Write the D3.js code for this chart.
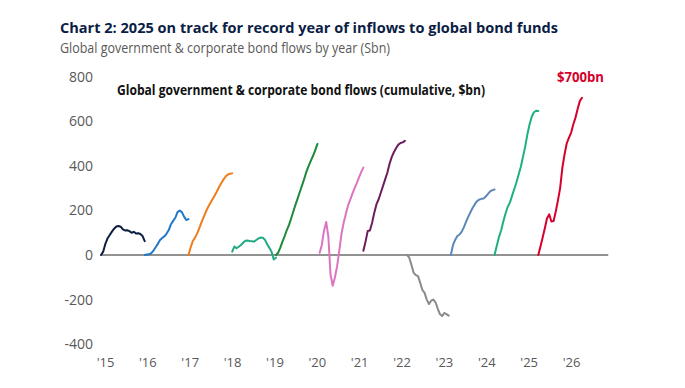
<!DOCTYPE html>
<html>
<head>
  <meta charset="UTF-8">
  <style>
    body { margin: 0; background: #fff; }
    svg text { font-family: "Open Sans", sans-serif; }
    .flow { fill: none; stroke-width: 2px; stroke-linejoin: round; stroke-linecap: round; }
    .axis text { fill: #595959; }
  </style>
</head>
<body>
<svg id="chart"></svg>
<script src="https://d3js.org/d3.v7.min.js"></script>
<script>

// year of each line, and the tick labels under the chart
let years = [2015, 2016, 2017, 2018, 2019, 2020, 2021, 2022, 2023, 2024, 2025];
let yearLabels = ["'15", "'16", "'17", "'18", "'19", "'20", "'21", "'22", "'23", "'24", "'25", "'26"];
let yTicks = [-400, -200, 0, 200, 400, 600, 800];

// cumulative flows, $bn, read every 1/20 of the year
let flows2015 = [0, 15, 50, 75, 90, 105, 118, 128, 130, 127, 115, 110, 111, 107, 100, 104, 96, 98, 94, 85, 62];
let flows2016 = [0, 2, 3, 8, 20, 35, 50, 67, 76, 84, 96, 112, 138, 153, 167, 192, 199, 192, 172, 157, 161];
let flows2017 = [0, 34, 63, 78, 97, 122, 147, 171, 195, 215, 233, 250, 267, 285, 305, 322, 338, 352, 361, 364, 366];
let flows2018 = [15, 38, 30, 37, 45, 55, 64, 65, 63, 62, 60, 67, 74, 78, 77, 68, 48, 32, 15, -20, -12];
let flows2019 = [0, 10, 33, 60, 85, 112, 135, 165, 196, 227, 255, 285, 313, 343, 375, 400, 423, 445, 470, 498];
let flows2020 = [10, 45, 110, 148, 80, -90, -138, -100, -50, 20, 95, 145, 185, 222, 248, 275, 300, 322, 348, 372, 392];
let flows2021 = [19, 60, 108, 110, 145, 190, 228, 250, 280, 310, 340, 370, 410, 440, 462, 480, 495, 502, 505, 512];
let flows2022 = [0, -12, -45, -80, -90, -95, -125, -157, -170, -200, -220, -205, -200, -212, -240, -265, -274, -260, -265, -272];
let flows2023 = [0, 45, 68, 85, 92, 105, 125, 150, 172, 192, 212, 228, 242, 248, 252, 253, 262, 274, 285, 291, 294];
let flows2024 = [0, 40, 80, 110, 150, 185, 215, 235, 265, 295, 325, 360, 395, 440, 485, 540, 585, 620, 640, 647, 646];
let flows2025 = [0, 38, 78, 120, 165, 182, 150, 152, 195, 245, 300, 390, 450, 500, 525, 548, 585, 615, 655, 690, 705];

// headline figure printed above the 2025 line
let headline2025 = 700;

let series = [flows2015, flows2016, flows2017, flows2018, flows2019, flows2020,
              flows2021, flows2022, flows2023, flows2024, flows2025];

let colours = ["#0c1f42", "#1f78c6", "#f07c1b", "#22a985", "#1c8a3a", "#dc74c1",
               "#6b1d5e", "#8a8a8a", "#5b87b9", "#1fb081", "#d5002b"];

let width = 685, height = 388;
let step = 0.05;

let svg = d3.select("#chart")
    .attr("width", width)
    .attr("height", height)
    .attr("viewBox", "0 0 " + width + " " + height);

let x = d3.scaleLinear().domain([2015, 2026]).range([101, 582]);
let y = d3.scaleLinear().domain([-400, 800]).range([344.2, 76.6]);
let xLabel = d3.scalePoint().domain(yearLabels).range([105, 571]);

// titles
svg.append("text")
    .attr("x", 60).attr("y", 33)
    .attr("font-size", 15).attr("font-weight", 700)
    .attr("fill", "#0b1d45")
    .attr("textLength", 498).attr("lengthAdjust", "spacingAndGlyphs")
    .text("Chart 2: 2025 on track for record year of inflows to global bond funds");

svg.append("text")
    .attr("x", 60).attr("y", 53)
    .attr("font-size", 14)
    .attr("fill", "#595959")
    .attr("textLength", 330).attr("lengthAdjust", "spacingAndGlyphs")
    .text("Global government & corporate bond flows by year (Sbn)");

svg.append("text")
    .attr("x", 117).attr("y", 95)
    .attr("font-size", 13.5).attr("font-weight", 700)
    .attr("fill", "#111")
    .attr("textLength", 368).attr("lengthAdjust", "spacingAndGlyphs")
    .text("Global government & corporate bond flows (cumulative,  $bn)");

// y axis labels (plain hyphen for negatives, as in the original)
svg.append("g")
    .attr("class", "axis")
    .attr("transform", "translate(93,0)")
    .call(d3.axisLeft(y).tickValues(yTicks).tickSize(0).tickPadding(0).tickFormat(d => String(d)))
    .call(g => g.select(".domain").remove())
    .call(g => g.selectAll("text").attr("font-size", 14).attr("font-family", null));

// x axis labels
svg.append("g")
    .attr("class", "axis")
    .attr("transform", "translate(0,358)")
    .call(d3.axisBottom(xLabel).tickSize(0).tickPadding(0))
    .call(g => g.select(".domain").remove())
    .call(g => g.selectAll("text").attr("font-size", 13).attr("font-family", null));

// zero line
svg.append("line")
    .attr("x1", x(2015)).attr("x2", x(2026.6))
    .attr("y1", y(0)).attr("y2", y(0))
    .attr("stroke", "#6e6e6e")
    .attr("stroke-width", 1.3);

let line = d3.line()
    .x(d => x(d.t))
    .y(d => y(d.v));

svg.append("g")
    .selectAll("path")
    .data(series)
    .enter()
    .append("path")
    .attr("class", "flow")
    .attr("stroke", (d, i) => colours[i])
    .attr("d", (d, i) => line(d.map((v, j) => ({ t: years[i] + j * step, v: v }))));

// end label for 2025
svg.append("text")
    .attr("x", 557).attr("y", 82)
    .attr("font-size", 14).attr("font-weight", 700)
    .attr("fill", colours[colours.length - 1])
    .attr("textLength", 47).attr("lengthAdjust", "spacingAndGlyphs")
    .text("$" + headline2025 + "bn");

</script>
</body>
</html>
